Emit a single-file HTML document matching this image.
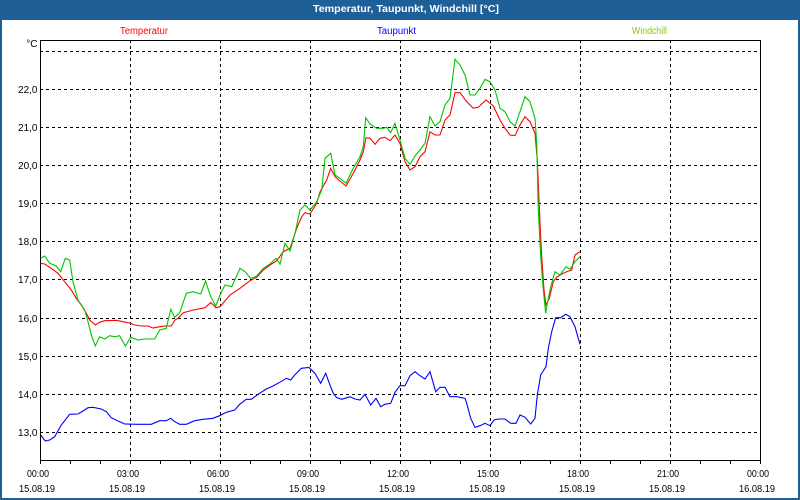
<!DOCTYPE html>
<html><head><meta charset="utf-8"><style>
html,body{margin:0;padding:0;background:#fff;}
svg{display:block;}
text{font-family:"Liberation Sans",sans-serif;}
</style></head><body>
<svg width="800" height="500" viewBox="0 0 800 500" xmlns="http://www.w3.org/2000/svg">
<rect x="0" y="0" width="800" height="500" fill="#1e5f97"/>
<rect x="2" y="20" width="796" height="478" fill="#ffffff"/>
<text x="313" y="12" fill="#ffffff" font-size="10.5" font-weight="bold" textLength="186" lengthAdjust="spacingAndGlyphs">Temperatur, Taupunkt, Windchill [°C]</text>
<text x="120" y="34" fill="#ff0000" font-size="10" textLength="48" lengthAdjust="spacingAndGlyphs">Temperatur</text>
<text x="377" y="34" fill="#0000ff" font-size="10" textLength="39" lengthAdjust="spacingAndGlyphs">Taupunkt</text>
<text x="632" y="34" fill="#88cc00" font-size="10" textLength="35" lengthAdjust="spacingAndGlyphs">Windchill</text>
<g stroke="#000" stroke-width="1" stroke-dasharray="3,3" fill="none">
<line x1="40" y1="51.5" x2="760" y2="51.5"/>
<line x1="40" y1="89.5" x2="760" y2="89.5"/>
<line x1="40" y1="127.5" x2="760" y2="127.5"/>
<line x1="40" y1="165.5" x2="760" y2="165.5"/>
<line x1="40" y1="203.5" x2="760" y2="203.5"/>
<line x1="40" y1="241.5" x2="760" y2="241.5"/>
<line x1="40" y1="279.5" x2="760" y2="279.5"/>
<line x1="40" y1="318.5" x2="760" y2="318.5"/>
<line x1="40" y1="356.5" x2="760" y2="356.5"/>
<line x1="40" y1="394.5" x2="760" y2="394.5"/>
<line x1="40" y1="432.5" x2="760" y2="432.5"/>
<line x1="130.5" y1="40" x2="130.5" y2="460"/>
<line x1="220.5" y1="40" x2="220.5" y2="460"/>
<line x1="310.5" y1="40" x2="310.5" y2="460"/>
<line x1="400.5" y1="40" x2="400.5" y2="460"/>
<line x1="490.5" y1="40" x2="490.5" y2="460"/>
<line x1="580.5" y1="40" x2="580.5" y2="460"/>
<line x1="670.5" y1="40" x2="670.5" y2="460"/>
</g>
<rect x="40.5" y="40.5" width="720" height="420" fill="none" stroke="#000" stroke-width="1"/>
<g stroke="#000" stroke-width="1">
<line x1="40.5" y1="460" x2="40.5" y2="464"/><line x1="70.5" y1="460" x2="70.5" y2="464"/><line x1="100.5" y1="460" x2="100.5" y2="464"/><line x1="130.5" y1="460" x2="130.5" y2="464"/><line x1="160.5" y1="460" x2="160.5" y2="464"/><line x1="190.5" y1="460" x2="190.5" y2="464"/><line x1="220.5" y1="460" x2="220.5" y2="464"/><line x1="250.5" y1="460" x2="250.5" y2="464"/><line x1="280.5" y1="460" x2="280.5" y2="464"/><line x1="310.5" y1="460" x2="310.5" y2="464"/><line x1="340.5" y1="460" x2="340.5" y2="464"/><line x1="370.5" y1="460" x2="370.5" y2="464"/><line x1="400.5" y1="460" x2="400.5" y2="464"/><line x1="430.5" y1="460" x2="430.5" y2="464"/><line x1="460.5" y1="460" x2="460.5" y2="464"/><line x1="490.5" y1="460" x2="490.5" y2="464"/><line x1="520.5" y1="460" x2="520.5" y2="464"/><line x1="550.5" y1="460" x2="550.5" y2="464"/><line x1="580.5" y1="460" x2="580.5" y2="464"/><line x1="610.5" y1="460" x2="610.5" y2="464"/><line x1="640.5" y1="460" x2="640.5" y2="464"/><line x1="670.5" y1="460" x2="670.5" y2="464"/><line x1="700.5" y1="460" x2="700.5" y2="464"/><line x1="730.5" y1="460" x2="730.5" y2="464"/><line x1="760.5" y1="460" x2="760.5" y2="464"/>
</g>
<g font-size="10" fill="#000" text-anchor="end">
<text x="37.5" y="47">°C</text>
<text x="37.5" y="93">22,0</text>
<text x="37.5" y="131">21,0</text>
<text x="37.5" y="169">20,0</text>
<text x="37.5" y="207">19,0</text>
<text x="37.5" y="245">18,0</text>
<text x="37.5" y="283">17,0</text>
<text x="37.5" y="322">16,0</text>
<text x="37.5" y="360">15,0</text>
<text x="37.5" y="398">14,0</text>
<text x="37.5" y="436">13,0</text>
</g>
<g font-size="10" fill="#000" text-anchor="middle">
<text x="38" y="477" textLength="22" lengthAdjust="spacingAndGlyphs">00:00</text>
<text x="128" y="477" textLength="22" lengthAdjust="spacingAndGlyphs">03:00</text>
<text x="218" y="477" textLength="22" lengthAdjust="spacingAndGlyphs">06:00</text>
<text x="308" y="477" textLength="22" lengthAdjust="spacingAndGlyphs">09:00</text>
<text x="398" y="477" textLength="22" lengthAdjust="spacingAndGlyphs">12:00</text>
<text x="488" y="477" textLength="22" lengthAdjust="spacingAndGlyphs">15:00</text>
<text x="578" y="477" textLength="22" lengthAdjust="spacingAndGlyphs">18:00</text>
<text x="668" y="477" textLength="22" lengthAdjust="spacingAndGlyphs">21:00</text>
<text x="758" y="477" textLength="22" lengthAdjust="spacingAndGlyphs">00:00</text>
<text x="37" y="492" textLength="36" lengthAdjust="spacingAndGlyphs">15.08.19</text>
<text x="127" y="492" textLength="36" lengthAdjust="spacingAndGlyphs">15.08.19</text>
<text x="217" y="492" textLength="36" lengthAdjust="spacingAndGlyphs">15.08.19</text>
<text x="307" y="492" textLength="36" lengthAdjust="spacingAndGlyphs">15.08.19</text>
<text x="397" y="492" textLength="36" lengthAdjust="spacingAndGlyphs">15.08.19</text>
<text x="487" y="492" textLength="36" lengthAdjust="spacingAndGlyphs">15.08.19</text>
<text x="577" y="492" textLength="36" lengthAdjust="spacingAndGlyphs">15.08.19</text>
<text x="667" y="492" textLength="36" lengthAdjust="spacingAndGlyphs">15.08.19</text>
<text x="757" y="492" textLength="36" lengthAdjust="spacingAndGlyphs">16.08.19</text>
</g>
<polyline fill="none" stroke="#ff0000" stroke-width="1.1" points="40.7,263.3 44.7,264 51.3,268.3 58,273.3 64.7,281.7 71.3,290 76.3,298.3 81.3,305 86.3,313.3 89.7,320 95.3,325 99.7,322.3 104.7,320.7 116.3,320.3 123,321.7 129.7,323 134.7,325 141.3,326 148,326 153,328 159.7,326.7 164.7,326 171.3,326 175,320 178,318.3 183.3,312.7 193.3,310 205,307.7 210.7,302.5 216,307.7 220,306.7 230,295 240,288.3 250,280.7 256.7,277.3 263.3,270 270,265 276.7,260.7 283.3,251.7 290,248.3 296.7,228.3 301.7,216.7 305,212.7 310,214 316.7,203.3 320,192 323.3,186 326.7,180 330.7,168.3 335,176.7 340,181 346,186 353.3,173.3 360,160 363.3,151.7 366,137.7 370,138.3 375,144.3 380,138.3 385,137.3 390,140.7 395,135 400,143.3 405,161.7 410,170 415,166.7 420,156.7 425,151.7 430,131.7 435,135 440,135 445,120 450,115 455,92.7 460,92.7 466.7,101.7 473.3,108.3 478.3,107.3 486,100 493.3,106 500,120 505,128.3 510,135 515,135.7 520,125 525,116.7 530,121.7 535,133.3 537.3,160 538.3,183.3 540,223.3 541.7,256.7 544,290 546,305 549.3,298.3 553.3,281.7 556.7,277.3 561.7,274 566.7,271.7 571.7,270 575,255 580,251.7"/>
<polyline fill="none" stroke="#0000ff" stroke-width="1.1" points="40.7,435 45.3,441 49.7,440 54.7,436.7 61.3,425 69.7,414.3 78,414 83,411 88,407.7 93,407.3 101.3,409 106.3,411.7 111.3,417.7 118,421 124.7,424 138,424.3 151.3,424.3 159.7,420.7 166.3,420.7 170.7,418.3 174.7,421.7 179.7,424.3 186.3,424.3 194.7,420.7 203,419.3 213,418.3 219.7,415.7 226.3,412.3 234.7,410 239.7,404.3 246.3,399.3 251.3,399.3 258,394.3 266.3,389 273,386 279.7,382.3 286.3,378.3 290.7,380 294.7,375 301.3,368.3 309,367.5 315,373.3 320.7,383.3 325.7,373.3 329.3,383.3 333.3,393.3 336.7,397.7 341.7,399.3 345,398.3 350,396.7 355,399 360,400 365,394.3 370.7,405 376,398.3 380.7,406.7 385,404.3 390.7,403.3 395,392.3 400,385.7 405,385.7 410,375.7 415,371.7 420,375.7 425,379 430,371.7 435.7,391.7 440,387.3 445,387.3 450,396.7 456.7,396.7 465,398.3 466.7,403.3 470.7,418.3 475,427.3 480,425.7 485,423.3 490,425.7 494,420 498.3,419 505,419 510.7,423.3 516,423.3 520,415 525,417.3 530.7,424 535,418.3 537.3,395 540.7,375 546,366.7 548.3,348.3 551.7,331.7 555.7,317.7 560.7,317.7 565.7,314.3 570,316.7 575,326.7 580,344.3"/>
<polyline fill="none" stroke="#00c400" stroke-width="1.1" points="40.7,258.3 44.7,256 49.7,263.3 56.3,266 60.7,271.7 65.3,258.3 69.7,260 73,281.7 78,300 84.7,310 88,321.7 91.3,335 95.3,346 99.7,336.7 104.7,339 109.7,335.7 114.7,336.7 119.7,335.7 125.3,346 130.7,337.3 138,340 144.7,339 154.7,339 159.7,330 166.3,328.3 170.7,309.3 174.7,317.3 179.7,312.7 186.3,293.3 193,291.7 200.7,294 205.5,281 210.5,296 215.7,306 220,295 225,285 231.7,286.7 240,268.3 245,271.7 250.7,278.3 256.7,276 263.3,268.3 270,264 276,258.3 280,264.3 285,243.3 290,251 295,233.3 300,210 305,205 310,210 316.7,201.7 321.7,190 325,158.3 330.7,153.3 335,175 340,178.3 346,183.3 353.3,168.3 360,156.7 363.3,146.7 365.7,117.7 370,124 376.7,128.3 383.3,128.3 386.7,127.3 390.7,132.7 395,123.3 400,140 405,158.3 410,164.3 415,156 420,150 425,143.3 430,116.7 435,126 440,121.7 445,105 450,98.3 455,59.3 460,65 465,75 470,95 475,95 480,88.3 485,79.3 490,81.7 495,90 500,108.3 505,111.7 510,121.7 515,126 520,111.7 525,96.7 530,101.7 535,118.3 536.7,143.3 538.3,210 540.7,256.7 543.3,290 545.7,313.3 547.3,303.3 550.7,286.7 555,271.7 560,275 566,266.7 570,269.3 575,261.7 580,256.7"/>
</svg>
</body></html>
